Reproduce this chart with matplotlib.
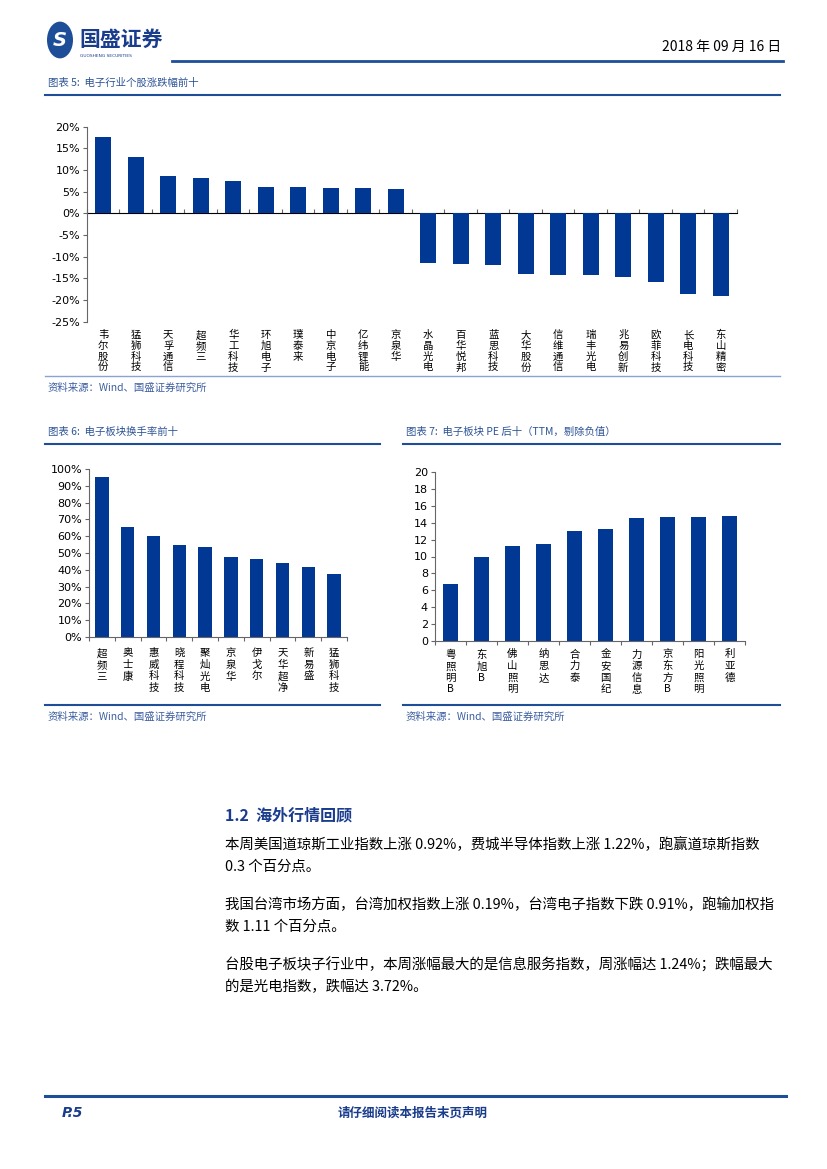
import numpy as np
import matplotlib
matplotlib.use('Agg')
import matplotlib.pyplot as plt
from matplotlib.lines import Line2D
from matplotlib.patches import Circle

plt.rcParams['font.family'] = ['Noto Sans CJK SC', 'DejaVu Sans']

# ---- data ----
rise_fall_names = ['韦尔股份', '猛狮科技', '天孚通信', '超频三', '华工科技', '环旭电子', '璞泰来',
                   '中京电子', '亿纬锂能', '京泉华', '水晶光电', '百华悦邦', '蓝思科技', '大华股份',
                   '信维通信', '瑞丰光电', '兆易创新', '欧菲科技', '长电科技', '东山精密']
rise_fall_values = [17.6, 13.0, 8.6, 8.2, 7.5, 6.2, 6.1, 5.9, 5.8, 5.7,
                    -11.4, -11.7, -11.9, -14.1, -14.2, -14.2, -14.6, -15.9, -18.5, -19.1]

turnover_names = ['超频三', '奥士康', '惠威科技', '晓程科技', '聚灿光电', '京泉华', '伊戈尔',
                  '天华超净', '新易盛', '猛狮科技']
turnover_values = [95.2, 65.3, 60.4, 55.0, 53.8, 47.4, 46.6, 44.0, 41.8, 37.6]

pe_names = ['粤照明B', '东旭B', '佛山照明', '纳思达', '合力泰', '金安国纪', '力源信息',
            '京东方B', '阳光照明', '利亚德']
pe_values = [6.7, 9.95, 11.2, 11.5, 13.0, 13.2, 14.6, 14.65, 14.7, 14.75]

body_lines = [
    '本周美国道琼斯工业指数上涨 0.92%，费城半导体指数上涨 1.22%，跑赢道琼斯指数',
    '0.3 个百分点。',
    '我国台湾市场方面，台湾加权指数上涨 0.19%，台湾电子指数下跌 0.91%，跑输加权指',
    '数 1.11 个百分点。',
    '台股电子板块子行业中，本周涨幅最大的是信息服务指数，周涨幅达 1.24%；跌幅最大',
    '的是光电指数，跌幅达 3.72%。',
]

W, H = 827, 1169
BAR = '#003893'
BLUE = '#1f4e99'
TITLE_BLUE = '#2f5597'
AXC = '#666666'

fig = plt.figure(figsize=(W / 100, H / 100), dpi=100)


def fx(px):
    return px / W


def fy(py):
    return 1 - py / H


def hline(x0, x1, y, lw, color):
    fig.add_artist(Line2D([fx(x0), fx(x1)], [fy(y), fy(y)], lw=lw, color=color,
                          transform=fig.transFigure))


def add_ax(left, top, right, bottom):
    return fig.add_axes([fx(left), fy(bottom), (right - left) / W, (bottom - top) / H])


def vert(s):
    return '\n'.join(list(s))


# ---- header ----
fig.add_artist(Circle((fx(60), fy(40)), 13 / W, transform=fig.transFigure,
                      facecolor=BLUE, edgecolor='none'))
fig.text(fx(60), fy(41), 'S', color='white', fontsize=14, fontweight='bold',
         style='italic', ha='center', va='center', family='DejaVu Sans')
fig.text(fx(79), fy(39), '国盛证券', color='#1a3c8c', fontsize=15, fontweight='bold',
         ha='left', va='center')
fig.text(fx(80), fy(56), 'GUOSHENG SECURITIES', color='#1a3c8c', fontsize=3.2,
         ha='left', va='center', family='DejaVu Sans')
fig.text(fx(781), fy(47), '2018 年 09 月 16 日', fontsize=10, ha='right', va='center')
hline(172, 783, 61, 2.0, BLUE)

# ---- footer ----
hline(45, 786, 1096, 2.2, BLUE)
fig.text(fx(62), fy(1113), 'P.5', color='#1a3c8c', fontsize=10, fontweight='bold',
         style='italic', ha='left', va='center', family='DejaVu Sans')
fig.text(fx(413), fy(1113), '请仔细阅读本报告末页声明', color='#1a3c8c', fontsize=9,
         fontweight='bold', ha='center', va='center')


def chart_title(x0, x1, y, text):
    fig.text(fx(x0 + 3), fy(y - 12), text, color=TITLE_BLUE, fontsize=7.5,
             style='italic', ha='left', va='center')
    hline(x0, x1, y, 1.5, BLUE)


def source(x0, x1, y, color, lw):
    hline(x0, x1, y, lw, color)
    fig.text(fx(x0 + 3), fy(y + 12), '资料来源：Wind、国盛证券研究所', color='#3c5ea0',
             fontsize=7.5, style='italic', ha='left', va='center')


def style_ax(ax):
    for s in ['top', 'right']:
        ax.spines[s].set_visible(False)
    ax.spines['left'].set_color(AXC)
    ax.spines['bottom'].set_color(AXC)
    ax.spines['left'].set_linewidth(0.8)
    ax.spines['bottom'].set_linewidth(0.8)
    ax.tick_params(axis='y', length=3, width=0.8, color=AXC, labelsize=8, pad=2)
    ax.tick_params(axis='x', which='major', length=0, labelsize=7.5)
    for lab in ax.get_yticklabels():
        lab.set_family('DejaVu Sans')


# ---- chart 5 ----
chart_title(45, 780, 95, '图表 5:  电子行业个股涨跌幅前十')
ax = add_ax(87, 126.7, 737, 321.7)
x = np.arange(len(rise_fall_names))
ax.bar(x, rise_fall_values, width=0.48, color=BAR)
ax.set_xlim(-0.5, len(x) - 0.5)
ax.set_ylim(-25, 20)
ax.set_yticks(np.arange(-25, 21, 5))
ax.set_yticklabels(['%d%%' % v for v in np.arange(-25, 21, 5)])
ax.set_xticks(x)
ax.set_xticklabels([vert(n) for n in rise_fall_names], linespacing=1.1, va='top')
style_ax(ax)
ax.spines['bottom'].set_visible(False)
ax.tick_params(axis='x', pad=6)
sec = ax.secondary_xaxis(25 / 45)
sec.set_xticks(np.arange(len(x) + 1) - 0.5)
sec.set_xticklabels([])
sec.spines['bottom'].set_color(AXC)
sec.spines['bottom'].set_linewidth(0.8)
sec.tick_params(length=3, width=0.8, color=AXC, direction='out')
source(45, 780, 376, '#8aa3d4', 1.0)

# ---- chart 6 ----
chart_title(45, 380, 444, '图表 6:  电子板块换手率前十')
ax = add_ax(89, 469, 347, 637)
x = np.arange(len(turnover_names))
ax.bar(x, turnover_values, width=0.52, color=BAR)
ax.set_xlim(-0.5, len(x) - 0.5)
ax.set_ylim(0, 100)
ax.set_yticks(np.arange(0, 101, 10))
ax.set_yticklabels(['%d%%' % v for v in np.arange(0, 101, 10)])
ax.set_xticks(x)
ax.set_xticklabels([vert(n) for n in turnover_names], linespacing=1.2, va='top')
ax.set_xticks(np.arange(len(x) + 1) - 0.5, minor=True)
style_ax(ax)
ax.tick_params(axis='x', which='minor', length=3, width=0.8, color=AXC)
ax.tick_params(axis='x', which='major', pad=8)
source(45, 380, 705, BLUE, 1.5)

# ---- chart 7 ----
chart_title(403, 780, 444, '图表 7:  电子板块 PE 后十（TTM，剔除负值）')
ax = add_ax(435, 472, 745, 641)
x = np.arange(len(pe_names))
ax.bar(x, pe_values, width=0.46, color=BAR)
ax.set_xlim(-0.5, len(x) - 0.5)
ax.set_ylim(0, 20)
ax.set_yticks(np.arange(0, 21, 2))
ax.set_yticklabels([str(v) for v in np.arange(0, 21, 2)])
ax.set_xticks(x)
ax.set_xticklabels([vert(n) for n in pe_names], linespacing=1.2, va='top')
ax.set_xticks(np.arange(len(x) + 1) - 0.5, minor=True)
style_ax(ax)
ax.tick_params(axis='x', which='minor', length=3, width=0.8, color=AXC)
ax.tick_params(axis='x', which='major', pad=6)
source(403, 780, 705, BLUE, 1.5)

# ---- text section ----
fig.text(fx(225), fy(815), '1.2  海外行情回顾', color='#1a3c8c', fontsize=11.5,
         fontweight='bold', ha='left', va='center')
line_y = [845, 867, 905, 927, 965, 987]
for yy, t in zip(line_y, body_lines):
    fig.text(fx(225), fy(yy), t, fontsize=10.4, ha='left', va='center')

fig.savefig('out.png', dpi=100)
